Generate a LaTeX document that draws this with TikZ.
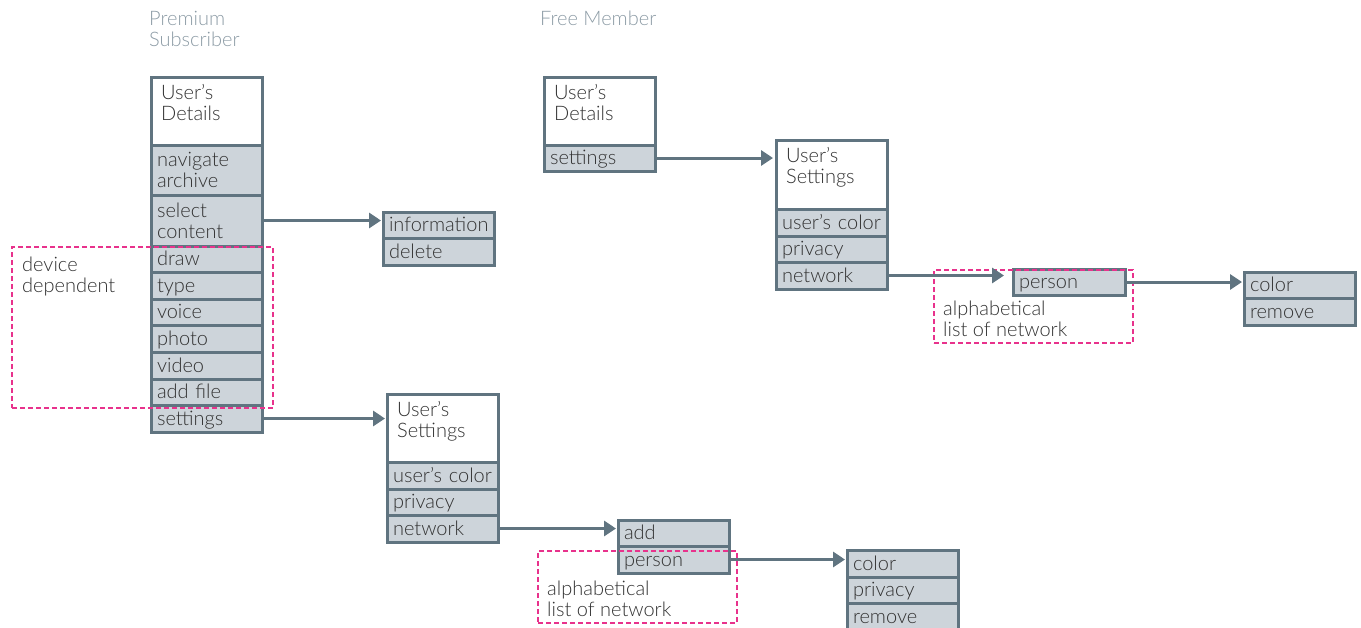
\documentclass[tikz,border=0pt]{standalone}
\usepackage{fontspec}
\setmainfont{Lato}[UprightFont=* Light]
\usetikzlibrary{arrows.meta}
\definecolor{linec}{RGB}{96,116,128}
\definecolor{cellc}{RGB}{205,212,218}
\definecolor{txtc}{RGB}{50,50,50}
\definecolor{ttlc}{RGB}{140,155,165}
\definecolor{magc}{RGB}{232,50,140}

\begin{document}
\begin{tikzpicture}[x=1pt,y=-1pt,
  every node/.style={font=\fontsize{20}{21}\selectfont, text=txtc},
  cellbase/.style={draw=linec, fill=cellc, line width=3pt, anchor=north west,
    inner xsep=6pt, inner ysep=0pt, outer sep=0pt, text width=99pt,
    minimum width=111pt, align=left},
  cell/.style={cellbase, text height=16pt, text depth=3pt},
  hd/.style={cellbase, fill=white, minimum height=68pt},
  hdtxt/.style={anchor=north west, inner sep=0pt, align=left},
  ttl/.style={anchor=north west, inner sep=0pt, align=left, text=ttlc},
  dbox/.style={draw=magc, line width=1.3pt, dash pattern=on 5pt off 3pt,
    anchor=north west, inner sep=0pt, outer sep=0pt},
  note/.style={anchor=north west, inner sep=0pt, align=left},
  arr/.style={draw=linec, line width=3pt, -{Triangle[length=12pt,width=15pt]}}
]
\useasboundingbox (0,0) rectangle (1361,627);

% column titles
\node[ttl] (tprem) at (149,11) {Premium\\Subscriber};
\node[ttl] (tfree) at (540,11) {Free Member};

% premium subscriber: user's details
\node[hd] (pdet) at (151,77) {};
\node[hdtxt] (pdett) at ([xshift=10pt,yshift=-7pt]pdet.north west) {User’s\\Details};
\node[cellbase, minimum height=50pt] (pnav) at (151,145) {navigate\\archive};
\node[cellbase, minimum height=51pt] (psel) at (151,195) {select\\content};
\node[cell, minimum height=26pt] (pdraw) at (151,246) {draw};
\node[cell, minimum height=27pt] (ptype) at (151,272) {type};
\node[cell, minimum height=26pt] (pvoice) at (151,299) {voice};
\node[cell, minimum height=27pt] (pphoto) at (151,325) {photo};
\node[cell, minimum height=27pt] (pvideo) at (151,352) {video};
\node[cell, minimum height=26pt] (pfile) at (151,379) {add file};
\node[cell, minimum height=27pt] (pset) at (151,405) {settings};

% content actions
\node[cell, minimum height=26pt] (pinfo) at (383,212) {information};
\node[cell, minimum height=27pt] (pdel) at (383,238) {delete};

% premium: user's settings
\node[hd] (pus) at (387,394) {};
\node[hdtxt] (pust) at ([xshift=10pt,yshift=-7pt]pus.north west) {User’s\\Settings};
\node[cell, minimum height=27pt] (pucol) at (387,462) {user’s color};
\node[cell, minimum height=26pt] (ppriv) at (387,489) {privacy};
\node[cell, minimum height=27pt] (pnet) at (387,515) {network};

\node[cell, minimum height=26pt] (padd) at (618,520) {add};
\node[cell, minimum height=27pt] (ppers) at (618,546) {person};

\node[cell, minimum height=27pt] (pcolor) at (847,550) {color};
\node[cell, minimum height=26pt] (pprv) at (847,577) {privacy};
\node[cell, minimum height=28pt] (prem) at (847,603) {remove};

% free member
\node[hd] (fdet) at (544,77) {};
\node[hdtxt] (fdett) at ([xshift=10pt,yshift=-7pt]fdet.north west) {User’s\\Details};
\node[cell, minimum height=26pt] (fset) at (544,145) {settings};

\node[hd, minimum height=69pt] (fus) at (776,140) {};
\node[hdtxt] (fust) at ([xshift=10pt,yshift=-7pt]fus.north west) {User’s\\Settings};
\node[cell, minimum height=27pt] (fucol) at (776,209) {user’s color};
\node[cell, minimum height=26pt] (fpriv) at (776,236) {privacy};
\node[cell, minimum height=27pt] (fnet) at (776,262) {network};

\node[cell, minimum height=26pt, minimum width=112pt, text width=100pt] (fpers) at (1013,269) {person};

\node[cell, minimum height=26pt] (fcolor) at (1244,272) {color};
\node[cell, minimum height=27pt] (frem) at (1244,298) {remove};

% dashed groupings
\node[dbox, minimum width=261pt, minimum height=161pt] (gdev) at (12,247) {};
\node[note] (tdev) at (22,257) {device\\dependent};
\node[dbox, minimum width=199pt, minimum height=72pt] (galpha) at (538,551) {};
\node[note] (talpha) at (547,581) {alphabetical\\list of network};
\node[dbox, minimum width=199pt, minimum height=73pt] (gfalpha) at (934,270) {};
\node[note] (tfalpha) at (943,301) {alphabetical\\list of network};

% connectors
\draw[arr, shorten >=2pt] (psel.east) -- (psel.east -| pinfo.west);
\draw[arr, shorten >=2pt] (pset.east) -- (pset.east -| pus.west);
\draw[arr, shorten >=2pt] (pnet.east) -- (pnet.east -| padd.west);
\draw[arr, shorten >=2pt] (ppers.east) -- (ppers.east -| pcolor.west);
\draw[arr, shorten >=3pt] (fset.east) -- (fset.east -| fus.west);
\draw[arr, shorten >=9pt] (fnet.east) -- (fnet.east -| fpers.west);
\draw[arr, shorten >=2pt] (fpers.east) -- (fpers.east -| fcolor.west);
\end{tikzpicture}
\end{document}
